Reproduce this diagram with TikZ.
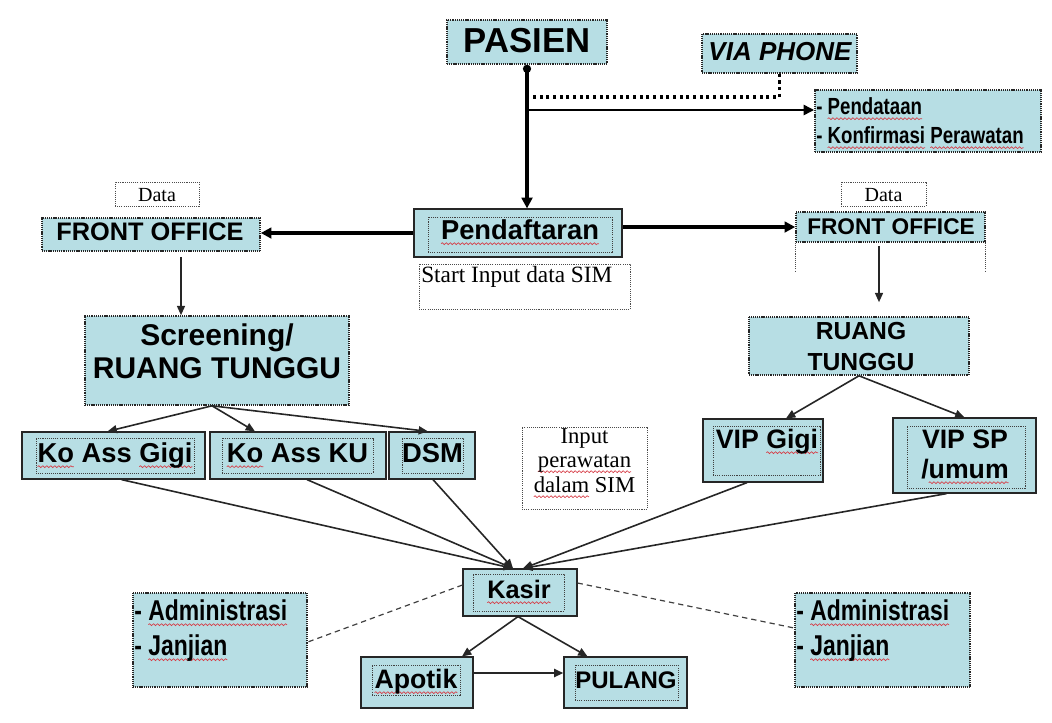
\documentclass[tikz,border=0pt]{standalone}
\usepackage{fontspec}
\usetikzlibrary{arrows.meta,calc,decorations.pathmorphing}
\setmainfont{Liberation Sans}
\newfontfamily\serif{Liberation Serif}
\newfontfamily\narrow[FakeStretch=0.8]{Liberation Sans}
\definecolor{skyb}{RGB}{183,222,228}
\definecolor{wavered}{RGB}{214,60,70}
% red wavy underline (spell-check marks)
\newsavebox\sqbox
\newdimen\sqw
\newcommand\sq[1]{\sbox\sqbox{#1}\sqw=\wd\sqbox
  \rlap{\tikz[overlay,baseline=0pt]\draw[wavered,line width=0.5pt,decorate,
    decoration={snake,amplitude=0.7pt,segment length=3pt}] (0pt,-3.5pt) -- (\sqw,-3.5pt);}%
  \usebox\sqbox}
\newcommand\fs[1]{\fontsize{#1}{#1}\selectfont}

\begin{document}
\begin{tikzpicture}[x=0.75pt,y=-0.75pt,
  box/.style={fill=skyb,draw=black!85,line width=0.9pt,inner sep=0pt},
  dotbox/.style={fill=skyb,draw=black!85,line width=1.2pt,dash pattern=on 0.8pt off 0.6pt,inner sep=0pt},
  inbox/.style={draw=black!75,line width=0.7pt,dash pattern=on 0.8pt off 0.8pt,inner sep=0pt},
  note/.style={draw=black!70,line width=0.6pt,dash pattern=on 0.8pt off 0.8pt,inner sep=0pt},
  lbl/.style={inner sep=0pt,anchor=base},
  lblw/.style={inner sep=0pt,anchor=base west},
  arr/.style={draw=black!85,line width=1.2pt,-{Triangle[length=7pt,width=6pt]}},
  bigarr/.style={draw=black,line width=2.6pt,-{Triangle[length=8pt,width=8pt]}},
  link/.style={draw=black!75,line width=0.9pt,dash pattern=on 4pt off 3pt},
  sizebox/.style args={#1x#2}{minimum width=#1pt,minimum height=#2pt}
]
\useasboundingbox (0,0) rectangle (1052,722);

% ---------- top row ----------
\node[dotbox,sizebox=120x33] (pasien) at (527,42) {};
\node[lbl,font={\bfseries\fs{26}}] at (527,52) {PASIEN};

\node[dotbox,sizebox=116.25x29.25] (phone) at (779.5,53.5) {};
\node[lbl,font={\bfseries\itshape\fs{19.5}}] at (780,60) {VIA PHONE};

\node[dotbox,sizebox=169.5x46.5] (pendata) at (928,121) {};
\node[lblw,font={\narrow\bfseries\fs{17.5}}] at (816,114) {- \sq{Pendataan}};
\node[lblw,font={\narrow\bfseries\fs{17.5}}] at (816,143) {- \sq{Konfirmasi} \sq{Perawatan}};

% ---------- registration ----------
\node[box,sizebox=156x36] (daftar) at (518,233) {};
\node[inbox,sizebox=138x26.25] (daftarin) at (520,234.5) {};
\node[lbl,font={\bfseries\fs{20.5}}] at (520,239) {\sq{Pendaftaran}};

\node[note,sizebox=158.25x33.75] (startsim) at (524.5,286.5) {};
\node[lblw,font={\serif\fs{17.5}}] at (421,282) {Start Input data SIM};

% ---------- left branch ----------
\node[note,sizebox=63x18] (dataL) at (157,194) {};
\node[lbl,font={\serif\fs{15}}] at (157,201) {Data};
\node[dotbox,sizebox=163.5x24.75] (foL) at (151,234.5) {};
\node[lbl,font={\bfseries\fs{19}}] at (150,240) {FRONT OFFICE};

\node[dotbox,sizebox=198x66.75] (screen) at (217,360.5) {};
\node[lbl,font={\bfseries\fs{22.5}}] at (217,345) {Screening/};
\node[lbl,font={\bfseries\fs{22.5}}] at (217,378) {RUANG TUNGGU};

\node[box,sizebox=137.25x35.25] (gigi) at (113.5,455.5) {};
\node[inbox,sizebox=118.5x26.25] at (115,455.5) {};
\node[lbl,font={\bfseries\fs{20.5}}] at (115,462) {\sq{Ko} Ass \sq{Gigi}};

\node[box,sizebox=132x35.25] (ku) at (298,455.5) {};
\node[inbox,sizebox=113.25x26.25] at (297.5,455.5) {};
\node[lbl,font={\bfseries\fs{20.5}}] at (297.5,462) {\sq{Ko} Ass KU};

\node[box,sizebox=64.5x35.25] (dsm) at (432,455.5) {};
\node[inbox,sizebox=45.75x26.25] at (432.5,455.5) {};
\node[lbl,font={\bfseries\fs{20.5}}] at (432.5,462) {DSM};

% ---------- right branch ----------
\node[note,sizebox=63.75x18] (dataR) at (883.5,194) {};
\node[lbl,font={\serif\fs{15}}] at (883.5,201) {Data};
\node[dotbox,sizebox=141.75x22.5] (foR) at (890.5,227) {};
\node[lbl,font={\bfseries\fs{17}}] at (891,234) {FRONT OFFICE};
\draw[note] (foR.south west) -- ++(0,28);
\draw[note] (foR.south east) -- ++(0,28);

\node[dotbox,sizebox=165x43.5] (ruang) at (859,346) {};
\node[lbl,font={\bfseries\fs{18.5}}] at (861,339) {RUANG};
\node[lbl,font={\bfseries\fs{18.5}}] at (861,370) {TUNGGU};

\node[box,sizebox=90x47.25] (vipg) at (763,450.5) {};
\node[inbox,sizebox=80.25x36.75] at (766.5,450.5) {};
\node[lbl,font={\bfseries\fs{20}}] at (767,448) {VIP \sq{Gigi}};

\node[box,sizebox=107.25x56.25] (vipsp) at (964.5,455.5) {};
\node[inbox,sizebox=88.5x46.5] at (966,457) {};
\node[lbl,font={\bfseries\fs{20}}] at (965,448) {VIP SP};
\node[lbl,font={\bfseries\fs{20}}] at (965,478) {/\sq{umum}};

\node[note,sizebox=93.75x61.5] (inputsim) at (584.5,468) {};
\node[lbl,font={\serif\fs{17}}] at (584.5,443) {Input};
\node[lbl,font={\serif\fs{17}}] at (584.5,467) {\sq{perawatan}};
\node[lbl,font={\serif\fs{17}}] at (584.5,492) {\sq{dalam} SIM};

% ---------- bottom ----------
\node[box,sizebox=85.5x35.25] (kasir) at (520,592.5) {};
\node[inbox,sizebox=68.25x27.75] at (518.5,592.5) {};
\node[lbl,font={\bfseries\fs{19}}] at (519,598) {\sq{Kasir}};

\node[box,sizebox=84x38.25] (apotik) at (417,682.5) {};
\node[inbox,sizebox=66x22.5] at (416,680) {};
\node[lbl,font={\bfseries\fs{20}}] at (416,688) {\sq{Apotik}};

\node[box,sizebox=92.25x38.25] (pulang) at (625.5,682.5) {};
\node[inbox,sizebox=77.25x26.25] at (626.5,682.5) {};
\node[lbl,font={\bfseries\fs{18}}] at (626,688) {PULANG};

\node[dotbox,sizebox=130.5x70.5] (adminL) at (220,640) {};
\node[lblw,font={\narrow\bfseries\fs{21.5}}] at (134,620) {- \sq{Administrasi}};
\node[lblw,font={\narrow\bfseries\fs{21.5}}] at (134,655) {- \sq{Janjian}};

\node[dotbox,sizebox=131.25x70.5] (adminR) at (882.5,640) {};
\node[lblw,font={\narrow\bfseries\fs{21.5}}] at (796,620) {- \sq{Administrasi}};
\node[lblw,font={\narrow\bfseries\fs{21.5}}] at (796,655) {- \sq{Janjian}};

% ---------- connectors ----------
\draw[line width=2.6pt,{Circle[length=6pt]}-{Triangle[length=8pt,width=8pt]}]
  (pasien.south) -- (pasien.south |- daftar.north);
\draw[line width=2pt,-{Triangle[length=8pt,width=7.5pt]}]
  (pasien.south |- 0,110) -- (pendata.west |- 0,110);
\draw[line width=2.4pt,dash pattern=on 2.4pt off 2.6pt]
  (phone.south) |- ($(pasien.south |- 0,97)+(3,0)$);

\draw[bigarr] (daftar.west) -- (daftar.west -| foL.east);
\draw[bigarr] (foR.west -| daftar.east) -- (foR.west);

\draw[arr] ($(foL.south)+(30,5)$) -- ($(foL.south |- screen.north)+(30,0)$);
\draw[arr] ($(foR.south)+(-11.5,3)$) -- ($(ruang.north)+(20,-14)$);

\coordinate (sfork) at ($(screen.south)+(-5,0)$);
\draw[arr] (sfork) -- ($(gigi.north)+(-6,0)$);
\draw[arr] (sfork) -- ($(ku.north)+(-43,0)$);
\draw[arr] (sfork) -- ($(dsm.north)+(-4,0)$);

\draw[arr] (ruang.south) -- ($(vipg.north)+(23,0)$);
\draw[arr] (ruang.south) -- (vipsp.north);

\coordinate (kinL) at ($(kasir.north)+(-7,0)$);
\coordinate (kinR) at ($(kasir.north)+(3,0)$);
\draw[arr] ($(gigi.south)+(8,0)$) -- (kinL);
\draw[arr] ($(ku.south)+(9,0)$) -- (kinL);
\draw[arr] ($(dsm.south)+(1,0)$) -- (kinL);
\draw[arr] ($(vipg.south)+(-16,0)$) -- (kinR);
\draw[arr] ($(vipsp.south)+(-18,0)$) -- (kinR);

\coordinate (kout) at ($(kasir.south)+(-2,0)$);
\draw[arr] (kout) -- ($(apotik.north)+(45,0)$);
\draw[arr] (kout) -- ($(pulang.north)+(-38,0)$);
\draw[arr,line width=1.8pt] ($(apotik.east)+(0,-9.5)$) -- ($(pulang.west)+(0,-9.5)$);

\draw[link] ($(kasir.west)+(0,-7.5)$) -- ($(adminL.east)+(0,2)$);
\draw[link] ($(kasir.east)+(0,-9.5)$) -- ($(adminR.west)+(0,-12)$);
\end{tikzpicture}
\end{document}
